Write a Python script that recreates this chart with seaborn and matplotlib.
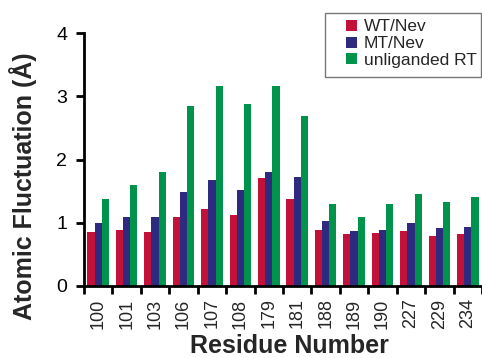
import matplotlib.pyplot as plt
import seaborn as sns
import pandas as pd
import numpy as np
from matplotlib.patches import Rectangle

# Residue fluctuation values
residues = ['100', '101', '103', '106', '107', '108', '179', '181',
            '188', '189', '190', '227', '229', '234']
wt_nev = [0.86, 0.89, 0.86, 1.09, 1.21, 1.12, 1.71, 1.37,
          0.89, 0.82, 0.84, 0.87, 0.79, 0.82]
mt_nev = [0.99, 1.09, 1.09, 1.48, 1.67, 1.51, 1.81, 1.72,
          1.03, 0.87, 0.89, 0.99, 0.91, 0.94]
unliganded = [1.37, 1.60, 1.81, 2.85, 3.16, 2.87, 3.16, 2.68,
              1.30, 1.09, 1.30, 1.46, 1.33, 1.41]
series_names = ['WT/Nev', 'MT/Nev', 'unliganded RT']
colors = ['#C2123A', '#2D2A80', '#00934C']

df = pd.DataFrame({
    'Residue': residues * 3,
    'Fluct': wt_nev + mt_nev + unliganded,
    'Series': np.repeat(series_names, len(residues)),
})

sns.set_theme(style='ticks')
plt.rcParams['font.family'] = ['Liberation Sans', 'DejaVu Sans']

fig = plt.figure(figsize=(4.82, 3.58), dpi=100)
ax = fig.add_axes([84 / 482, 1 - 286 / 358, 398 / 482, 253 / 358])

sns.barplot(data=df, x='Residue', y='Fluct', hue='Series', order=residues,
            hue_order=series_names, palette=colors, saturation=1,
            width=0.76, linewidth=0, errorbar=None, ax=ax)

ax.set_ylim(0, 4)
ax.set_xlim(-0.5, 13.22)
ax.set_yticks([0, 1, 2, 3, 4])
ax.tick_params(axis='y', labelsize=14, length=6, width=2, pad=6,
               direction='out', color='black', labelcolor='black')
# labels centered on groups, tick marks between groups
ax.set_xticks(range(len(residues)))
ax.set_xticklabels(residues, rotation=90)
ax.tick_params(axis='x', which='major', length=0, labelsize=13, pad=9)
ax.set_xticks(np.arange(-0.5, len(residues), 1), minor=True)
ax.tick_params(axis='x', which='minor', length=6, width=2, direction='out',
               color='black')

for s in ['top', 'right']:
    ax.spines[s].set_visible(False)
for s in ['left', 'bottom']:
    ax.spines[s].set_linewidth(2)
    ax.spines[s].set_color('black')

ax.set_xlabel('Residue Number', fontsize=18, fontweight='bold')
ax.xaxis.set_label_coords(0.516, -0.19)
ax.set_ylabel('Atomic Fluctuation (Å)', fontsize=18, fontweight='bold')
ax.yaxis.set_label_coords(-0.117, 0.395)

# legend frame drawn separately so it can be wider than its entries
fig.patches.append(Rectangle((325 / 482, 1 - 77 / 358), 156 / 482, 64 / 358,
                             transform=fig.transFigure, fill=False,
                             edgecolor='#777777', linewidth=1))
leg = ax.legend(loc='upper left', bbox_to_anchor=(343 / 482, 1 - 16 / 358),
                bbox_transform=fig.transFigure, fontsize=12.5, frameon=False,
                handlelength=0.6, handleheight=0.6, handletextpad=0.4,
                labelspacing=0.1, borderpad=0.2, borderaxespad=0)

fig.savefig('out.png', dpi=100)
